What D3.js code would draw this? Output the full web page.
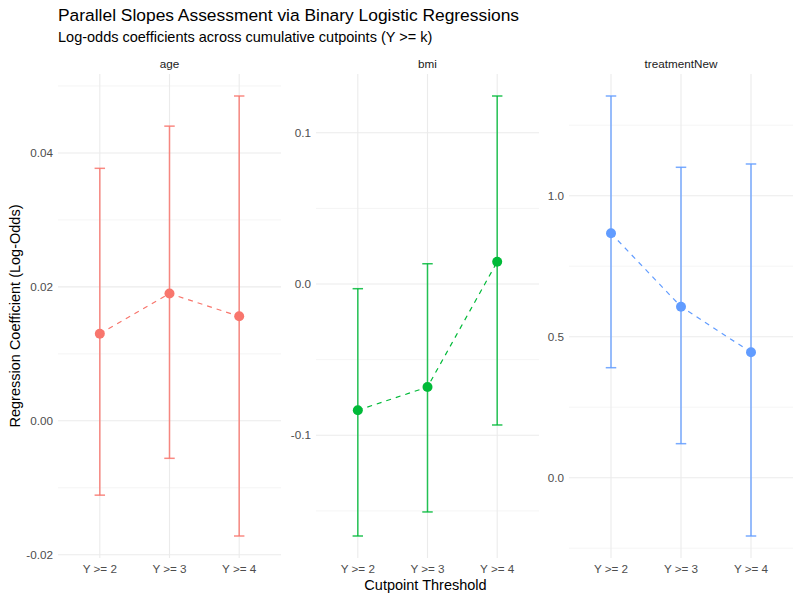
<!DOCTYPE html>
<html><head><meta charset="utf-8">
<script src="https://cdn.jsdelivr.net/npm/d3@7"></script>
<style>body{margin:0;background:#fff}svg{display:block}text{font-family:"Liberation Sans",Arial,Helvetica,sans-serif}</style>
</head><body>
<svg id="c" width="800" height="600"></svg>
<script>
const cutpoints = ["Y >= 2", "Y >= 3", "Y >= 4"];
const terms = ["age", "bmi", "treatmentNew"];
const colors = ["#F8766D", "#00BA38", "#619CFF"];
const estAge = [0.0130, 0.0190, 0.0156];
const lowAge = [-0.0111, -0.0056, -0.0172];
const highAge = [0.0377, 0.0440, 0.0485];
const estBmi = [-0.0835, -0.0681, 0.0147];
const lowBmi = [-0.1666, -0.1507, -0.0932];
const highBmi = [-0.0031, 0.0134, 0.1243];
const estTrt = [0.8667, 0.6064, 0.4447];
const lowTrt = [0.3900, 0.1206, -0.2068];
const highTrt = [1.3535, 1.1007, 1.1124];
const ticksAge = [-0.02, 0.00, 0.02, 0.04];
const ticksBmi = [-0.1, 0.0, 0.1];
const ticksTrt = [0.0, 0.5, 1.0];
const minorAge = [-0.01, 0.01, 0.03, 0.05];
const minorBmi = [-0.15, -0.05, 0.05];
const minorTrt = [-0.25, 0.25, 0.75, 1.25];
const tickFmt = [".2f", ".1f", ".1f"];

const panels = [
  {term: terms[0], est: estAge, lo: lowAge, hi: highAge, ticks: ticksAge, minor: minorAge, x0: 58, x1: 281},
  {term: terms[1], est: estBmi, lo: lowBmi, hi: highBmi, ticks: ticksBmi, minor: minorBmi, x0: 316, x1: 539},
  {term: terms[2], est: estTrt, lo: lowTrt, hi: highTrt, ticks: ticksTrt, minor: minorTrt, x0: 569, x1: 793}
];
const pTop = 74, pBottom = 558;
const svg = d3.select("#c");

svg.append("text").attr("x", 58).attr("y", 21).attr("font-size", 17.4).attr("fill", "#000")
  .text("Parallel Slopes Assessment via Binary Logistic Regressions");
svg.append("text").attr("x", 58).attr("y", 42).attr("font-size", 14.5).attr("fill", "#000")
  .text("Log-odds coefficients across cumulative cutpoints (Y >= k)");

panels.forEach((p, i) => {
  const g = svg.append("g");
  const x = d3.scalePoint().domain(cutpoints).range([p.x0, p.x1]).padding(0.6);
  const lo = d3.min(p.lo), hi = d3.max(p.hi), pad = (hi - lo) * 0.05;
  const y = d3.scaleLinear().domain([lo - pad, hi + pad]).range([pBottom, pTop]);
  const col = colors[i];
  g.selectAll(".mn").data(p.minor).join("line")
    .attr("x1", p.x0).attr("x2", p.x1).attr("y1", d => y(d)).attr("y2", d => y(d))
    .attr("stroke", "#EBEBEB").attr("stroke-width", 0.55);
  g.selectAll(".mj").data(p.ticks).join("line")
    .attr("x1", p.x0).attr("x2", p.x1).attr("y1", d => y(d)).attr("y2", d => y(d))
    .attr("stroke", "#EBEBEB").attr("stroke-width", 1.1);
  g.selectAll(".vx").data(cutpoints).join("line")
    .attr("x1", d => x(d)).attr("x2", d => x(d)).attr("y1", pTop).attr("y2", pBottom)
    .attr("stroke", "#EBEBEB").attr("stroke-width", 1.1);
  g.selectAll(".yt").data(p.ticks).join("text")
    .attr("x", p.x0 - 5).attr("y", d => y(d)).attr("dy", "0.35em")
    .attr("text-anchor", "end").attr("font-size", 11.7).attr("fill", "#4D4D4D")
    .text(d => d3.format(tickFmt[i])(d).replace("−", "-"));
  g.selectAll(".xt").data(cutpoints).join("text")
    .attr("x", d => x(d)).attr("y", pBottom + 15)
    .attr("text-anchor", "middle").attr("font-size", 11.7).attr("fill", "#4D4D4D")
    .text(d => d);
  g.append("text").attr("x", (p.x0 + p.x1) / 2).attr("y", 68).attr("text-anchor", "middle")
    .attr("font-size", 11.7).attr("fill", "#1A1A1A").text(p.term);
  const cw = x.step() * 0.15 / 2;
  cutpoints.forEach((c, j) => {
    const eg = g.append("g").attr("stroke", col).attr("stroke-width", 1.5).attr("stroke-opacity", 0.85);
    eg.append("line").attr("x1", x(c)).attr("x2", x(c)).attr("y1", y(p.lo[j])).attr("y2", y(p.hi[j]));
    eg.append("line").attr("x1", x(c) - cw).attr("x2", x(c) + cw).attr("y1", y(p.lo[j])).attr("y2", y(p.lo[j]));
    eg.append("line").attr("x1", x(c) - cw).attr("x2", x(c) + cw).attr("y1", y(p.hi[j])).attr("y2", y(p.hi[j]));
  });
  const line = d3.line().x((d, j) => x(cutpoints[j])).y(d => y(d));
  g.append("path").attr("d", line(p.est)).attr("fill", "none").attr("stroke", col)
    .attr("stroke-width", 1.2).attr("stroke-dasharray", "5,5");
  g.selectAll(".pt").data(p.est).join("circle")
    .attr("cx", (d, j) => x(cutpoints[j])).attr("cy", d => y(d)).attr("r", 5).attr("fill", col);
});

svg.append("text").attr("transform", "translate(20,316) rotate(-90)").attr("text-anchor", "middle")
  .attr("font-size", 14.5).attr("fill", "#000").text("Regression Coefficient (Log-Odds)");
svg.append("text").attr("x", 425.5).attr("y", 590).attr("text-anchor", "middle")
  .attr("font-size", 14.5).attr("fill", "#000").text("Cutpoint Threshold");
</script>
</body></html>
